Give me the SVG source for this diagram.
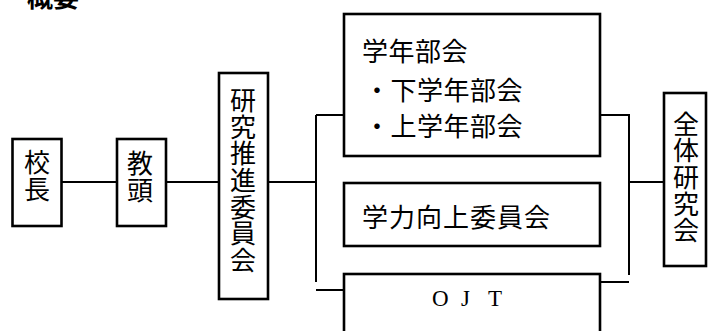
<svg xmlns="http://www.w3.org/2000/svg" width="709" height="331" viewBox="0 0 709 331">
<style>
.box{fill:#fff;stroke:#000;stroke-width:2.6}
.ln{fill:none;stroke:#000;stroke-width:2}
.jp{font-family:"Noto Sans CJK JP","Noto Sans",sans-serif;font-size:26px;fill:#000}
.v{writing-mode:vertical-rl;text-orientation:upright}
.en{font-family:"Liberation Serif",serif;font-size:23px;fill:#000}
</style>
<rect width="709" height="331" fill="#fff"/>
<text x="27" y="7" class="jp" font-weight="bold">概要</text>
<g id="connectors">
<path class="ln" d="M62 182H117M166 182H219M268 182H316M316 115V282M316 115H344M316 290H344"/>
<path class="ln" d="M600 115H629V275M600 282H629M629 182H664"/>
</g>
<g id="kocho">
<rect class="box" x="12.5" y="139" width="49" height="87"/>
<text class="jp v" x="37" y="149" letter-spacing="1">校長</text>
</g>
<g id="kyoto">
<rect class="box" x="117" y="139" width="49" height="87"/>
<text class="jp v" x="140" y="150" letter-spacing="1">教頭</text>
</g>
<g id="suishin">
<rect class="box" x="219" y="73" width="49" height="226"/>
<text class="jp v" x="243" y="87" letter-spacing="0.7">研究推進委員会</text>
</g>
<g id="gakunen">
<rect class="box" x="344" y="14" width="256" height="142"/>
<text class="jp" x="362" y="61" letter-spacing="0.5">学年部会</text>
<text class="jp" x="364" y="100" letter-spacing="0.5">・下学年部会</text>
<text class="jp" x="364" y="136" letter-spacing="0.5">・上学年部会</text>
</g>
<g id="gakuryoku">
<rect class="box" x="344" y="183" width="256" height="63"/>
<text class="jp" x="362" y="227" letter-spacing="1">学力向上委員会</text>
</g>
<g id="ojt">
<rect class="box" x="344" y="274" width="256" height="70"/>
<text class="en" x="432 461 488" y="306">OJT</text>
</g>
<g id="zentai">
<rect class="box" x="664" y="93" width="42" height="173"/>
<text class="jp v" x="686" y="111" font-size="25" letter-spacing="0.6">全体研究会</text>
</g>
</svg>
